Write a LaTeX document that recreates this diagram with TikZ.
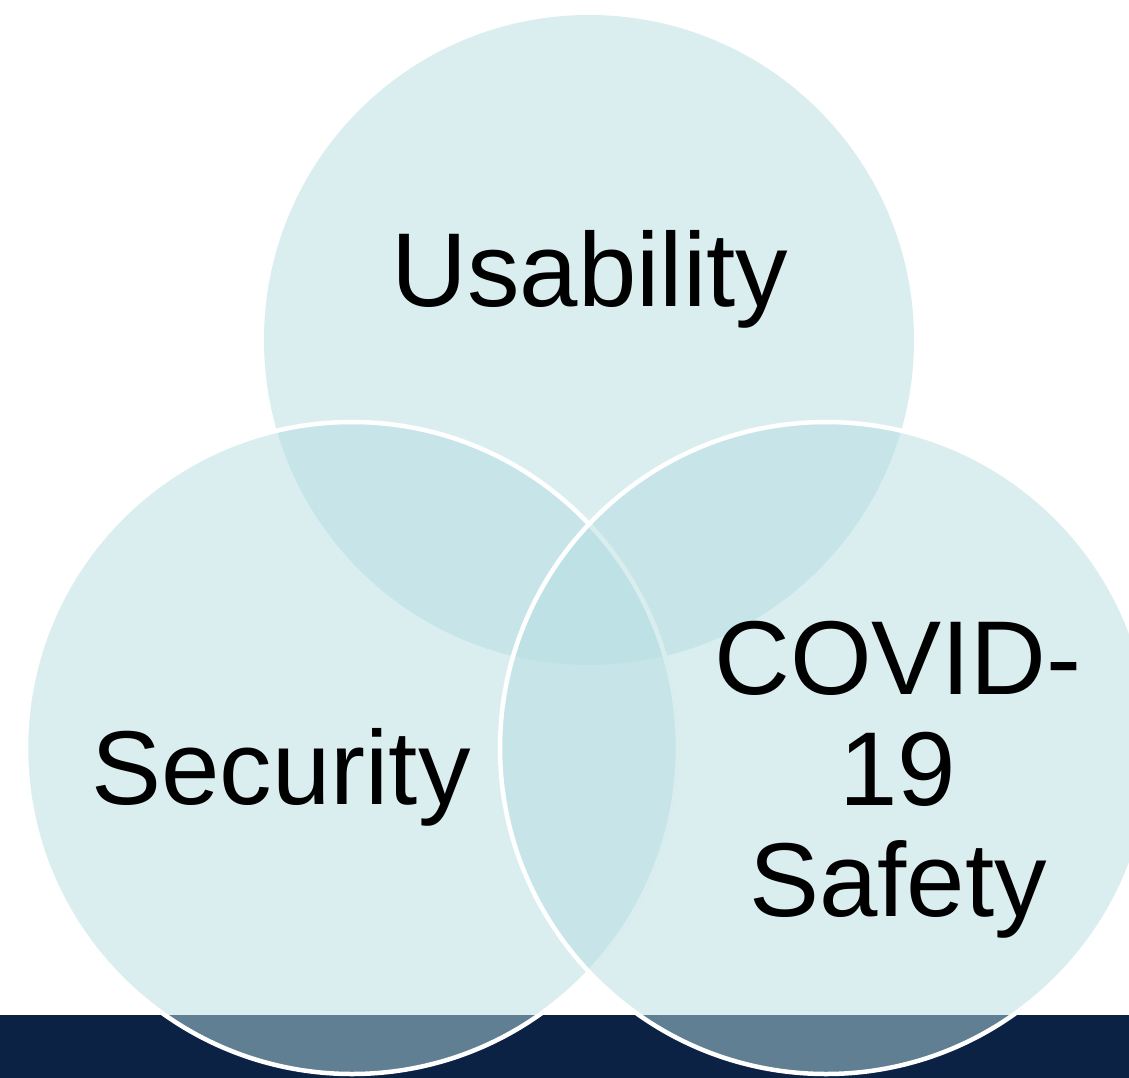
\documentclass[tikz,border=0pt]{standalone}
\usepackage{fontspec}
\setmainfont{Liberation Sans}
\definecolor{circfill}{HTML}{B5DDE1}
\definecolor{navyband}{HTML}{0B2245}
\begin{document}
\begin{tikzpicture}[x=1pt,y=-1pt,
  venn/.style={circle, minimum size=650pt, inner sep=0pt, outer sep=0pt, fill=circfill, fill opacity=0.5},
  vennline/.style={venn, draw=white, draw opacity=1, line width=4.5pt},
  lbl/.style={text=black, inner sep=0pt, outer sep=0pt, anchor=base, text opacity=1,
    font=\fontsize{105}{111}\selectfont, align=center}]
\useasboundingbox (0,0) rectangle (1129,1078);
\clip (0,0) rectangle (1129,1078);
\fill[navyband] (0,1015) rectangle (1129,1078);
\node[venn] (usab) at (589,340) {};
\node[vennline, minimum size=652pt] (secu) at (352,748) {};
\node[vennline, minimum size=652pt] (covid) at (826,748) {};
\node[lbl] (tusab) at (590,306) {Usability};
\node[lbl] (tsecu) at (281,804) {Security};
\node[lbl] (tcovid) at (898,916) {COVID-\\19\\Safety};
\end{tikzpicture}
\end{document}
